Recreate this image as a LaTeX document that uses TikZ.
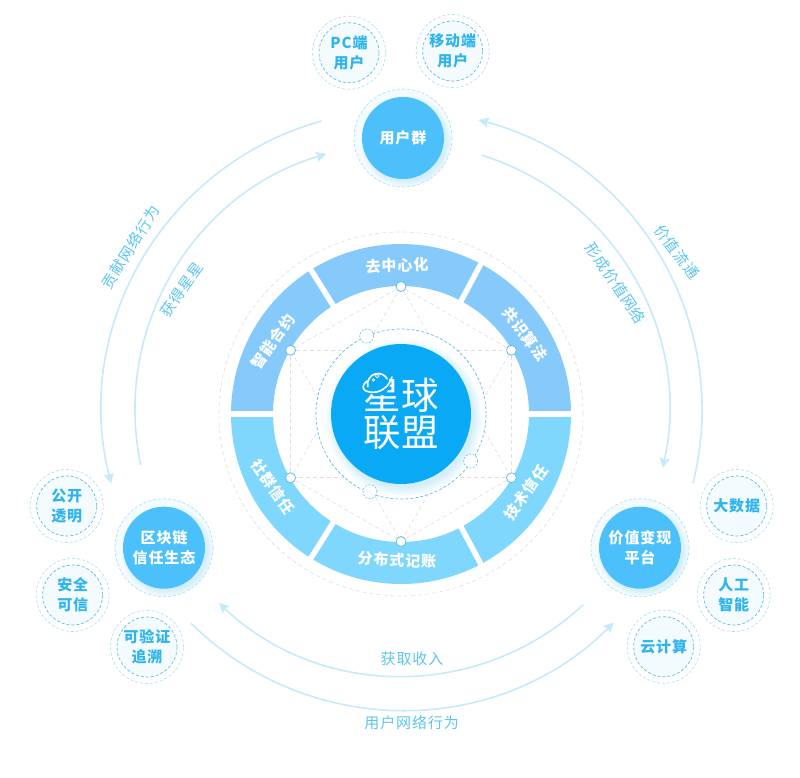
\documentclass[tikz,border=0pt]{standalone}
\usepackage{fontspec}
\setmainfont{Noto Sans CJK SC}[LetterSpace=6]
\newfontfamily\logofont{Noto Sans CJK SC}
\usetikzlibrary{arrows.meta,backgrounds}
\definecolor{flowblue}{HTML}{C6EAF9}
\definecolor{labelblue}{HTML}{5CC5EE}
\definecolor{satblue}{HTML}{2FB4EC}
\definecolor{discblue}{HTML}{4BC0FA}
\definecolor{hubblue}{HTML}{0AA9F5}
\definecolor{ringup}{HTML}{86CAFC}
\definecolor{ringdown}{HTML}{80D7FD}
\definecolor{dashblue}{HTML}{5FBFE0}
\definecolor{dashpale}{HTML}{B4E1F1}
\definecolor{meshgrey}{HTML}{E2DDDF}
\definecolor{satfill}{HTML}{F3FBFE}
\tikzset{
  flowtip/.style={draw=flowblue, line width=1.6pt, -{Stealth[length=10pt,width=10pt,inset=1.5pt]}},
  flowplain/.style={draw=flowblue, line width=1.6pt},
  flowtext/.style={text=labelblue, font=\fontsize{15}{15}\selectfont},
  disc/.style={circle, fill=discblue, minimum size=82pt, inner sep=0pt, text=white, align=center, font=\fontsize{15}{20}\selectfont\bfseries},
  sat/.style={circle, draw=dashblue, line width=.7pt, dash pattern=on 3pt off 2pt, fill=satfill, minimum size=60pt, inner sep=0pt, text=satblue, align=center, font=\fontsize{15}{20}\selectfont\bfseries},
  ringtext/.style={text=white, font=\fontsize{15}{15}\selectfont\bfseries},
  hexdot/.style={circle, draw=dashblue, line width=.8pt, fill=white, minimum size=10pt, inner sep=0pt},
  moon/.style={circle, draw=dashblue, line width=.6pt, dash pattern=on 2pt off 1.5pt, fill=white, minimum size=14pt, inner sep=0pt},
  mesh/.style={draw=meshgrey, line width=.6pt, dash pattern=on 4pt off 3pt},
  halfdash/.style={draw=dashpale, line width=.7pt, dash pattern=on 3pt off 2pt},
}
\begin{document}
\begin{tikzpicture}[x=1pt,y=1pt]
  \useasboundingbox (0,0) rectangle (800,-777);
  \coordinate (mid) at (401,-414);
  \coordinate (orbit) at (402,-410);

  % ring
  \draw[draw=meshgrey, line width=.6pt, dash pattern=on 4pt off 3pt] (mid) circle (182);
  \draw[ringup, line width=42pt] ([shift={(0:149)}]mid) arc[start angle=0,end angle=180,radius=149];
  \draw[ringdown, line width=42pt] ([shift={(180:149)}]mid) arc[start angle=180,end angle=360,radius=149];
  \foreach \a in {0,62,122,180,238,298}
    \draw[white, line width=5.5pt] ([shift={(\a:125)}]mid) -- ([shift={(\a:173)}]mid);

  % mesh
  \foreach \a [count=\i] in {90,30,-30,-90,-150,150}
    \node[hexdot] (h\i) at ([shift={(\a:127.5)}]mid) {};
  \foreach \u/\v in {1/2,2/3,3/4,4/5,5/6,6/1,1/3,3/5,5/1,2/4,4/6,6/2}
    \draw[mesh] (h\u) -- (h\v);

  % centre
  \fill[white] (mid) circle (85);
  \draw[dashblue, line width=.7pt, dash pattern=on 3pt off 2pt] (mid) circle (85);
  \foreach \d in {0,2,4,6,8}
    \fill[hubblue, opacity=.035] (mid) ++(3,-4) circle (70+\d);
  \node[moon] (moon1) at (366.7,-336) {};
  \node[moon] (moon2) at (470.7,-461) {};
  \node[moon] (moon3) at (370,-491.7) {};
  \node[circle, fill=hubblue, minimum size=140pt, inner sep=0pt, text=white, align=center, font=\logofont\fontsize{37.5}{37}\selectfont] (hub) at (mid) {星球\\联盟};
  \fill[hubblue] (378,-384) circle (12);
  \draw[white, line width=1.6pt, line cap=round] (367.9,-386.7) arc[start angle=195,delta angle=-165,radius=10.5];
  \draw[white, line width=1.6pt, line cap=round] (367,-381) .. controls (362,-385) and (362,-389) .. (366,-391) .. controls (376,-395) and (388,-390) .. (392,-377);
  \draw[white, line width=.7pt] (377.3,-376) circle (1.9);
  \draw[white, line width=.7pt] (373.3,-380) circle (1.3);

  % ring labels
  \node[ringtext, rotate=2] (lab1) at (397,-265.5) {去中心化};
  \node[ringtext, rotate=-53] (lab2) at (525,-334) {共识算法};
  \node[ringtext, rotate=55] (lab3) at (526,-493) {技术信任};
  \node[ringtext, rotate=-3] (lab4) at (397,-560) {分布式记账};
  \node[ringtext, rotate=-55] (lab5) at (273,-487) {社群信任};
  \node[ringtext, rotate=55] (lab6) at (273,-342) {智能合约};

  % big discs
  \node[disc] (user) at (403,-138) {用户群};
  \node[disc] (chain) at (164,-547.7) {区块链\\信任生态};
  \node[disc] (value) at (640,-547.7) {价值变现\\平台};
  \begin{scope}[on background layer]
    \foreach \n in {user,chain,value} {
      \fill[satfill] (\n) circle (49);
      \foreach \d in {0,2,4}
        \fill[discblue, opacity=.06] (\n) ++(3,-3) circle (41+\d);
    }
  \end{scope}
  \foreach \n in {user,chain,value}
    \draw[halfdash] (\n) circle (49);

  % small discs
  \node[sat] (pc) at (349,-52.7) {PC端\\用户};
  \node[sat] (mobile) at (452.7,-51) {移动端\\用户};
  \node[sat] (open) at (66.7,-506) {公开\\透明};
  \node[sat] (safe) at (72.7,-595) {安全\\可信};
  \node[sat] (trace) at (147,-647) {可验证\\追溯};
  \node[sat] (data) at (736.7,-506) {大数据};
  \node[sat] (ai) at (733.7,-595) {人工\\智能};
  \node[sat] (cloud) at (663.7,-646.7) {云计算};
  \foreach \n in {pc,mobile,open,safe,trace,data,ai,cloud}
    \draw[halfdash] (\n) circle (36.5);

  % arcs
  \foreach \n/\f/\t/\r in {a/105.5/194.2/300,b/191.9/106.5/267,c/-14.1/75.2/300,d/72.6/-12.5/267,e/-47.1/-133.5/266,f/-134.7/-45.1/300} {
    \coordinate (\n) at ([shift={(\f:\r)}]orbit);
    \draw[flowtip] (\n) arc[start angle=\f,end angle=\t,radius=\r];
  }

  % arc labels
  \node[flowtext, rotate=58] (give) at (130.7,-247) {贡献网络行为};
  \node[flowtext, rotate=55] (earn) at (181.7,-290) {获得星星};
  \node[flowtext, rotate=-53] (flowing) at (676.7,-251.7) {价值流通};
  \node[flowtext, rotate=-56] (network) at (615.7,-283) {形成价值网络};
  \node[flowtext] (income) at (412,-659) {获取收入};
  \node[flowtext] (act) at (411.7,-723) {用户网络行为};
\end{tikzpicture}
\end{document}
